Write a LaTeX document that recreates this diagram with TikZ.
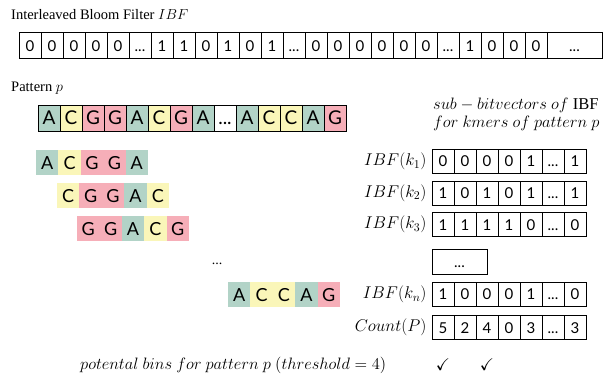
\RequirePackage{fix-cm}
\documentclass[tikz,border=0pt]{standalone}
\usepackage{amssymb}
\usepackage{fontspec}
\setmainfont{Liberation Serif}
\newfontfamily\cellfont{Lato}
\usetikzlibrary{positioning}

\definecolor{baseA}{RGB}{178,211,199}
\definecolor{baseC}{RGB}{250,246,185}
\definecolor{baseG}{RGB}{246,174,184}
\definecolor{baseX}{RGB}{255,255,255}

\newcommand{\gapdots}{...}

\tikzstyle{heading} = [anchor=west, inner sep=0pt, font=\fontsize{14.5}{17}\selectfont]
\tikzstyle{bit} = [rectangle, draw=black, line width=0.7pt, minimum width=22pt, minimum height=26pt, inner sep=0pt, text centered, text height=11pt, text depth=0pt, font=\cellfont\fontsize{15}{15}\selectfont]
\tikzstyle{base} = [rectangle, minimum width=22pt, minimum height=26pt, inner sep=0pt, text centered, text height=13.5pt, text depth=0pt, font=\cellfont\fontsize{19}{19}\selectfont]
\tikzstyle{kmer} = [base, minimum width=22.6pt, minimum height=25pt, text height=13pt, font=\cellfont\fontsize{18}{18}\selectfont]
\tikzstyle{rowname} = [anchor=east, inner sep=0pt, font=\fontsize{17}{18}\selectfont]
\tikzstyle{mathtext} = [anchor=west, inner sep=0pt, align=left, font=\fontsize{16.5}{18}\selectfont]

\begin{document}
\begin{tikzpicture}[x=1pt, y=-1pt]
\useasboundingbox (0,0) rectangle (606,373);

% interleaved bloom filter
\node (ibftitle) [heading] at (11,15) {Interleaved Bloom Filter $IBF$};
\foreach \v [count=\i] in {0,0,0,0,0,\gapdots,1,1,0,1,0,1,\gapdots,0,0,0,0,0,0,\gapdots,1,0,0,0}
  \node (ibf\i) [bit] at (8+22*\i,45.5) {\v};
\node (ibf25) [bit, minimum width=55pt] at (574.5,45.5) {\gapdots};

% pattern
\node (pattitle) [heading] at (11,88) {Pattern $p$};
\foreach \b/\s [count=\i] in {A/A,C/C,G/G,G/G,A/A,C/C,G/G,A/A,\gapdots/X,A/A,C/C,C/C,A/A,G/G}
  \node (pat\i) [base, draw, line width=0.7pt, fill=base\s] at (27+22*\i,118) {\b};

% kmers of the pattern
\foreach \b [count=\i] in {A,C,G,G,A}
  \node (kone\i) [kmer, fill=base\b] at (24.8+22.4*\i,162.5) {\b};
\foreach \b [count=\i] in {C,G,G,A,C}
  \node (ktwo\i) [kmer, fill=base\b] at (45.8+22.4*\i,195.5) {\b};
\foreach \b [count=\i] in {G,G,A,C,G}
  \node (kthree\i) [kmer, fill=base\b] at (65.8+22.4*\i,228.5) {\b};
\node (kdots) [inner sep=0pt, font=\fontsize{14}{14}\selectfont] at (217,264) {...};
\foreach \b [count=\i] in {A,C,C,A,G}
  \node (kn\i) [kmer, fill=base\b] at (216.8+22.4*\i,294.5) {\b};

% sub-bitvectors
\node (subtitle) [mathtext] at (433,114) {$sub-bitvectors\ of$ $\mathrm{IBF}$\\$for\ kmers\ of\ pattern\ p$};
\foreach \v [count=\i] in {0,0,0,0,1,\gapdots,1}
  \node (vone\i) [bit, minimum height=24pt] at (421+22*\i,161.3) {\v};
\foreach \v [count=\i] in {1,0,1,0,1,\gapdots,1}
  \node (vtwo\i) [bit, minimum height=24pt] at (421+22*\i,193) {\v};
\foreach \v [count=\i] in {1,1,1,1,0,\gapdots,0}
  \node (vthree\i) [bit, minimum height=24pt] at (421+22*\i,224.7) {\v};
\node (vdots) [bit, minimum width=55pt, minimum height=25pt] at (459.5,261.6) {\gapdots};
\foreach \v [count=\i] in {1,0,0,0,1,\gapdots,0}
  \node (vn\i) [bit, minimum height=24pt] at (421+22*\i,294.2) {\v};
\foreach \v [count=\i] in {5,2,4,0,3,\gapdots,3}
  \node (cnt\i) [bit, minimum height=24pt] at (421+22*\i,327.5) {\v};

\node (lone) [rowname, left=5pt of vone1] {$IBF(k_1)$};
\node (ltwo) [rowname, left=5pt of vtwo1] {$IBF(k_2)$};
\node (lthree) [rowname, left=5pt of vthree1] {$IBF(k_3)$};
\node (ln) [rowname, left=5pt of vn1] {$IBF(k_n)$};
\node (lcnt) [rowname, left=5pt of cnt1] {$Count(P)$};

% potential bins
\node (bins) [mathtext] at (80,365) {$potental\ bins\ for\ pattern\ p\ (threshold = 4)$};
\node (chkone) [font=\fontsize{17}{17}\selectfont] at (cnt1 |- bins) {$\checkmark$};
\node (chktwo) [font=\fontsize{17}{17}\selectfont] at (cnt3 |- bins) {$\checkmark$};

\end{tikzpicture}
\end{document}
